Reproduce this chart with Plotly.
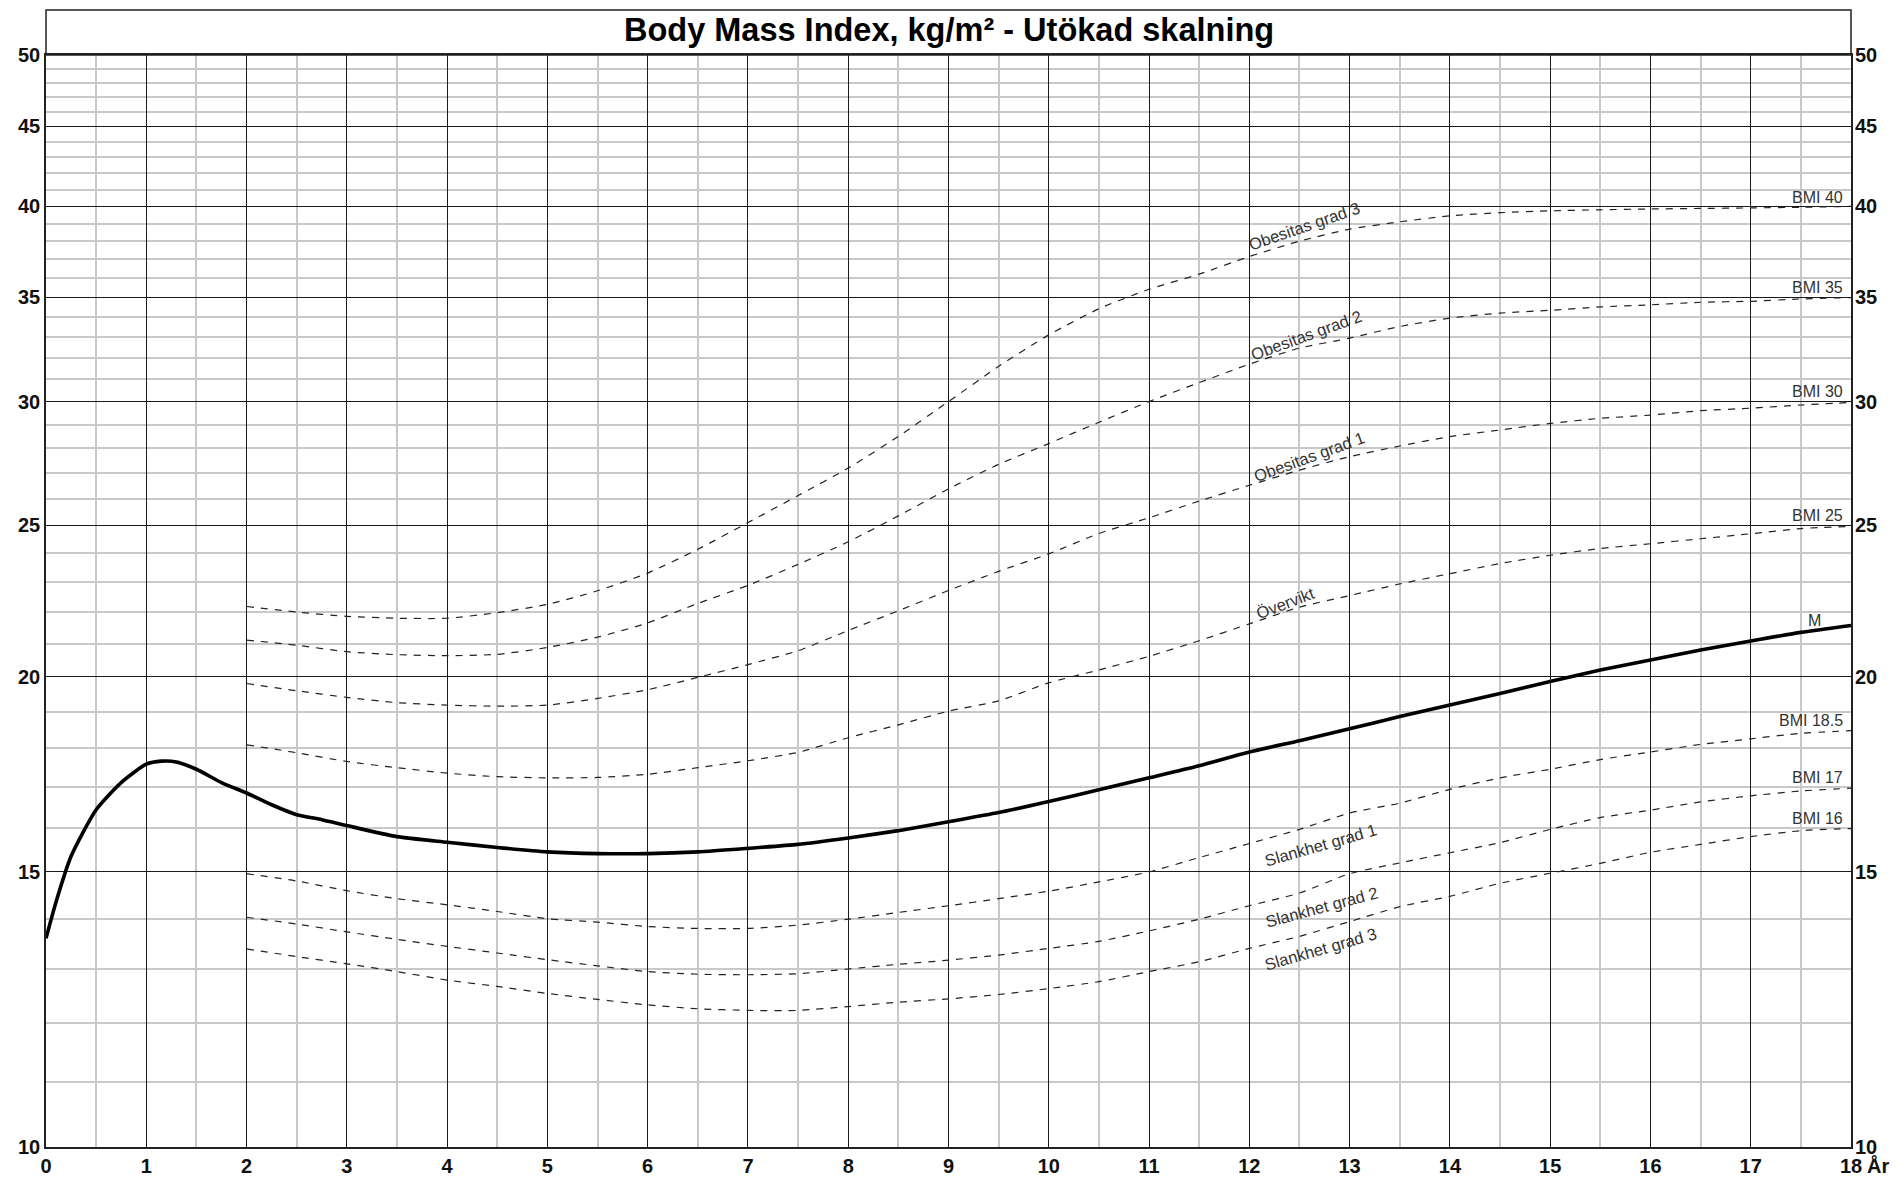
import math
import plotly.graph_objects as go

# ---------------- data ----------------
ages_m = [0, 0.1, 0.25, 0.5, 0.75, 1, 1.15, 1.3, 1.5, 1.75, 2, 2.25, 2.5, 2.75, 3,
          3.5, 4, 4.5, 5, 5.5, 6, 6.5, 7, 7.5, 8, 8.5, 9, 9.5, 10, 10.5, 11, 11.5,
          12, 12.5, 13, 13.5, 14, 14.5, 15, 15.5, 16, 16.5, 17, 17.5, 18]
bmi_m = [13.6, 14.35, 15.35, 16.44, 17.11, 17.58, 17.66, 17.64, 17.45, 17.11, 16.85, 16.56,
         16.32, 16.2, 16.06, 15.8, 15.67, 15.55, 15.45, 15.41, 15.41, 15.45, 15.53, 15.62,
         15.77, 15.94, 16.15, 16.37, 16.64, 16.93, 17.23, 17.54, 17.9, 18.2, 18.52, 18.86,
         19.18, 19.51, 19.86, 20.2, 20.5, 20.8, 21.08, 21.35, 21.57]

ages_iso = [2, 2.5, 3, 3.5, 4, 4.5, 5, 5.5, 6, 6.5, 7, 7.5, 8, 8.5, 9, 9.5, 10, 10.5,
            11, 11.5, 12, 12.5, 13, 13.5, 14, 14.5, 15, 15.5, 16, 16.5, 17, 17.5, 18]

obesitas3 = [22.18, 22.0, 21.86, 21.8, 21.8, 21.98, 22.25, 22.7, 23.3, 24.13, 25.1, 26.12,
             27.2, 28.5, 30.0, 31.6, 33.1, 34.4, 35.4, 36.2, 37.15, 38.0, 38.68, 39.1,
             39.45, 39.63, 39.74, 39.8, 39.85, 39.88, 39.91, 39.95, 40.0]
obesitas2 = [21.11, 20.95, 20.75, 20.66, 20.63, 20.67, 20.88, 21.2, 21.65, 22.28, 22.88, 23.6,
             24.4, 25.35, 26.38, 27.35, 28.2, 29.1, 30.0, 30.85, 31.7, 32.46, 32.94, 33.51,
             33.93, 34.18, 34.32, 34.49, 34.6, 34.73, 34.78, 34.9, 34.97]
obesitas1 = [19.8, 19.59, 19.4, 19.25, 19.18, 19.15, 19.18, 19.37, 19.62, 19.98, 20.36, 20.78,
             21.41, 22.04, 22.71, 23.36, 23.97, 24.7, 25.28, 25.91, 26.52, 27.12, 27.66, 28.1,
             28.49, 28.77, 29.05, 29.27, 29.41, 29.6, 29.71, 29.85, 29.96]
overvikt = [18.09, 17.88, 17.65, 17.49, 17.35, 17.26, 17.23, 17.24, 17.32, 17.49, 17.67, 17.89,
            18.28, 18.63, 19.01, 19.3, 19.82, 20.2, 20.61, 21.09, 21.62, 22.16, 22.54, 22.93,
            23.28, 23.63, 23.92, 24.16, 24.33, 24.51, 24.69, 24.88, 24.96]
slankhet1 = [14.96, 14.8, 14.59, 14.42, 14.29, 14.15, 14.0, 13.93, 13.84, 13.8, 13.8, 13.87,
             13.99, 14.13, 14.27, 14.42, 14.58, 14.78, 15.0, 15.32, 15.64, 15.97, 16.36, 16.6,
             16.94, 17.23, 17.45, 17.7, 17.9, 18.1, 18.25, 18.4, 18.47]
slankhet2 = [14.03, 13.89, 13.73, 13.58, 13.44, 13.31, 13.18, 13.06, 12.95, 12.9, 12.89, 12.91,
             13.0, 13.09, 13.17, 13.27, 13.4, 13.54, 13.75, 13.99, 14.27, 14.54, 14.96, 15.2,
             15.43, 15.66, 15.97, 16.25, 16.43, 16.63, 16.78, 16.9, 16.97]
slankhet3 = [13.39, 13.24, 13.1, 12.95, 12.79, 12.67, 12.54, 12.43, 12.33, 12.26, 12.23, 12.23,
             12.3, 12.38, 12.44, 12.52, 12.63, 12.76, 12.95, 13.14, 13.4, 13.64, 13.94, 14.25,
             14.47, 14.75, 14.97, 15.19, 15.44, 15.62, 15.8, 15.94, 15.99]

iso_series = [obesitas3, obesitas2, obesitas1, overvikt, slankhet1, slankhet2, slankhet3]

# curve labels: text, x (age), y (BMI), angle
curve_labels = ["Obesitas grad 3", "Obesitas grad 2", "Obesitas grad 1", "Övervikt",
                "Slankhet grad 1", "Slankhet grad 2", "Slankhet grad 3"]
curve_label_x = [12.55, 12.57, 12.59, 12.36, 12.71, 12.72, 12.71]
curve_label_y = [38.86, 33.1, 27.64, 22.29, 15.6, 14.25, 13.38]
curve_label_angle = [-19, -20, -20, -21, -16, -15, -16]

bmi_labels = ["BMI 40", "BMI 35", "BMI 30", "BMI 25", "BMI 18.5", "BMI 17", "BMI 16"]
bmi_label_y = [40.52, 35.49, 30.43, 25.38, 18.74, 17.24, 16.23]

x_ticks = list(range(0, 19))
x_minor = [0.5, 1.5, 2.5, 3.5, 4.5, 5.5, 6.5, 7.5, 8.5, 9.5, 10.5, 11.5, 12.5, 13.5,
           14.5, 15.5, 16.5, 17.5]
y_ticks = [10, 15, 20, 25, 30, 35, 40, 45, 50]
y_minor = [v for v in range(11, 50) if v % 5 != 0]

title_text = "Body Mass Index, kg/m² - Utökad skalning"

# ---------------- figure ----------------
W, H = 1903, 1177
ML, MR, MT, MB = 46, 52, 55, 30
plot_h = H - MT - MB

FONT = "Liberation Sans, Arial, sans-serif"
fig = go.Figure()

for s in iso_series:
    fig.add_trace(go.Scatter(x=ages_iso, y=s, mode="lines",
                             line=dict(color="#222222", width=1.2, dash="7px,7px",
                                       shape="spline", smoothing=0.6),
                             hoverinfo="skip", showlegend=False))

fig.add_trace(go.Scatter(x=ages_m, y=bmi_m, mode="lines",
                         line=dict(color="#000000", width=3.6, shape="spline", smoothing=0.6),
                         hoverinfo="skip", showlegend=False))
# invisible trace so the right-hand axis is drawn
fig.add_trace(go.Scatter(x=ages_m, y=bmi_m, mode="lines", yaxis="y2",
                         line=dict(width=0), opacity=0, hoverinfo="skip", showlegend=False))

tickfont = dict(family=FONT, size=20, color="#111111", weight="bold")
yrange = [1, math.log10(50)]

fig.update_layout(
    width=W, height=H,
    margin=dict(l=ML, r=MR, t=MT, b=MB, autoexpand=False),
    paper_bgcolor="white", plot_bgcolor="white",
    xaxis=dict(range=[0, 18], tickmode="array", tickvals=x_ticks,
               ticktext=[str(v) for v in x_ticks], automargin=False,
               showgrid=True, gridcolor="#1a1a1a", gridwidth=1,
               minor=dict(tickmode="array", tickvals=x_minor, showgrid=True,
                          gridcolor="#c8c8c8", gridwidth=1.5, ticks=""),
               showline=True, mirror=True, linecolor="#222222", linewidth=1.5,
               zeroline=False, ticks="", tickfont=tickfont),
    yaxis=dict(type="log", range=yrange, tickmode="array", tickvals=y_ticks,
               ticktext=[str(v) for v in y_ticks], automargin=False,
               showgrid=True, gridcolor="#1a1a1a", gridwidth=1,
               minor=dict(tickmode="array", tickvals=y_minor, showgrid=True,
                          gridcolor="#c8c8c8", gridwidth=1.5, ticks=""),
               showline=True, mirror=True, linecolor="#222222", linewidth=1.5,
               zeroline=False, ticks="", tickfont=tickfont),
    yaxis2=dict(type="log", range=yrange, overlaying="y", side="right", automargin=False,
                tickmode="array", tickvals=y_ticks, ticktext=[str(v) for v in y_ticks],
                showgrid=False, zeroline=False, ticks="", showline=False,
                ticklabelstandoff=3, tickfont=tickfont),
)

# title box
box_top = 1 + 45 / plot_h
fig.add_shape(type="rect", xref="paper", yref="paper", x0=0, x1=1, y0=1, y1=box_top,
              line=dict(color="#222222", width=1.5), fillcolor="rgba(0,0,0,0)")
fig.add_annotation(xref="paper", yref="paper", x=0.5, y=1 + 25 / plot_h,
                   text=title_text, showarrow=False, xanchor="center", yanchor="middle",
                   font=dict(family=FONT, size=32.5, color="#000000", weight="bold"))

# "År" after the last x tick label
fig.add_annotation(xref="paper", yref="paper", x=1, y=0, xanchor="left", yanchor="top",
                   xshift=14, yshift=-5, text="År", showarrow=False,
                   font=dict(family=FONT, size=20, color="#111111", weight="bold"))

lab_font = dict(family=FONT, size=16.5, color="#333333")
for t, lx, ly, ang in zip(curve_labels, curve_label_x, curve_label_y, curve_label_angle):
    fig.add_annotation(x=lx, y=math.log10(ly), text=t, showarrow=False, textangle=ang,
                       xanchor="center", yanchor="middle", font=lab_font)

for t, ly in zip(bmi_labels, bmi_label_y):
    fig.add_annotation(x=18, y=math.log10(ly), text=t, showarrow=False, xanchor="right",
                       yanchor="middle", xshift=-6, font=dict(family=FONT, size=16, color="#333333"))

fig.add_annotation(x=17.64, y=math.log10(21.73), text="M", showarrow=False,
                   xanchor="center", yanchor="middle", font=dict(family=FONT, size=16, color="#333333"))

fig.write_html("out.html")
